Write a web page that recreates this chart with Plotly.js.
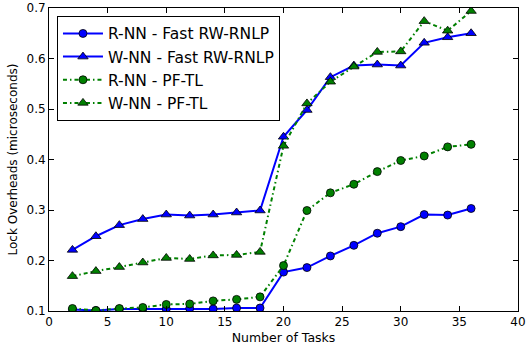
<!DOCTYPE html>
<html>
<head>
<meta charset="utf-8">
<script src="https://cdn.plot.ly/plotly-3.0.1.min.js"></script>
<style>html,body{margin:0;padding:0;background:#fff;}#chart{width:527px;height:352px;}</style>
</head>
<body>
<div id="chart"></div>
<script>
const tasks = [2,4,6,8,10,12,14,16,18,20,22,24,26,28,30,32,34,36];
const rnnFast = [0.103,0.101,0.104,0.104,0.104,0.105,0.104,0.106,0.106,0.177,0.186,0.209,0.230,0.254,0.267,0.291,0.290,0.303];
const wnnFast = [0.221,0.248,0.270,0.282,0.291,0.289,0.291,0.295,0.299,0.445,0.498,0.563,0.586,0.588,0.586,0.631,0.642,0.650];
const rnnPF = [0.105,0.101,0.105,0.107,0.113,0.114,0.120,0.123,0.128,0.190,0.299,0.334,0.351,0.376,0.398,0.407,0.425,0.430];
const wnnPF = [0.169,0.179,0.187,0.196,0.205,0.203,0.210,0.211,0.217,0.427,0.511,0.554,0.584,0.613,0.614,0.674,0.655,0.694];
const names = ['R-NN - Fast RW-RNLP','W-NN - Fast RW-RNLP','R-NN - PF-TL','W-NN - PF-TL'];
const xTicks = [0,5,10,15,20,25,30,35,40];
const yTicks = [0.1,0.2,0.3,0.4,0.5,0.6,0.7];

const dashDot = '4px,3px,1.5px,3px';
function tr(y, name, color, symbol, dash) {
  return {
    x: tasks, y: y, name: name, type: 'scatter', mode: 'lines+markers',
    line: {color: color, width: 2, dash: dash},
    marker: {color: color, symbol: symbol, size: symbol === 'circle' ? 8 : 9, line: {color: '#000', width: 0.8}}
  };
}
const data = [
  tr(rnnFast, names[0], '#0000ff', 'circle', 'solid'),
  tr(wnnFast, names[1], '#0000ff', 'triangle-up', 'solid'),
  tr(rnnPF, names[2], '#008000', 'circle', dashDot),
  tr(wnnPF, names[3], '#008000', 'triangle-up', dashDot)
];
const axisCommon = {
  showgrid: false, zeroline: false, showline: true, linecolor: '#000', linewidth: 1,
  mirror: 'allticks', ticks: 'inside', ticklen: 5, tickcolor: '#000', tickwidth: 1,
  tickfont: {family: 'DejaVu Sans', size: 12, color: '#000'}
};
const layout = {
  width: 527, height: 352,
  margin: {l: 49, r: 9, t: 8, b: 41},
  paper_bgcolor: '#fff', plot_bgcolor: '#fff',
  font: {family: 'DejaVu Sans', color: '#000'},
  showlegend: true,
  legend: {
    x: 0.017, y: 0.974, xanchor: 'left', yanchor: 'top',
    bordercolor: '#000', borderwidth: 1, bgcolor: '#fff',
    font: {family: 'DejaVu Sans', size: 15.5, color: '#000'},
    itemwidth: 40
  },
  xaxis: Object.assign({}, axisCommon, {
    range: [0, 40], tickvals: xTicks, ticktext: xTicks.map(String),
    title: {text: 'Number of Tasks', font: {family: 'DejaVu Sans', size: 12.5, color: '#000'}, standoff: 4}
  }),
  yaxis: Object.assign({}, axisCommon, {
    range: [0.1, 0.7], tickvals: yTicks, ticktext: yTicks.map(v => v.toFixed(1)),
    title: {text: 'Lock Overheads (microseconds)', font: {family: 'DejaVu Sans', size: 12, color: '#000'}, standoff: 6}
  })
};
Plotly.newPlot('chart', data, layout, {displayModeBar: false, staticPlot: true});
</script>
</body>
</html>
